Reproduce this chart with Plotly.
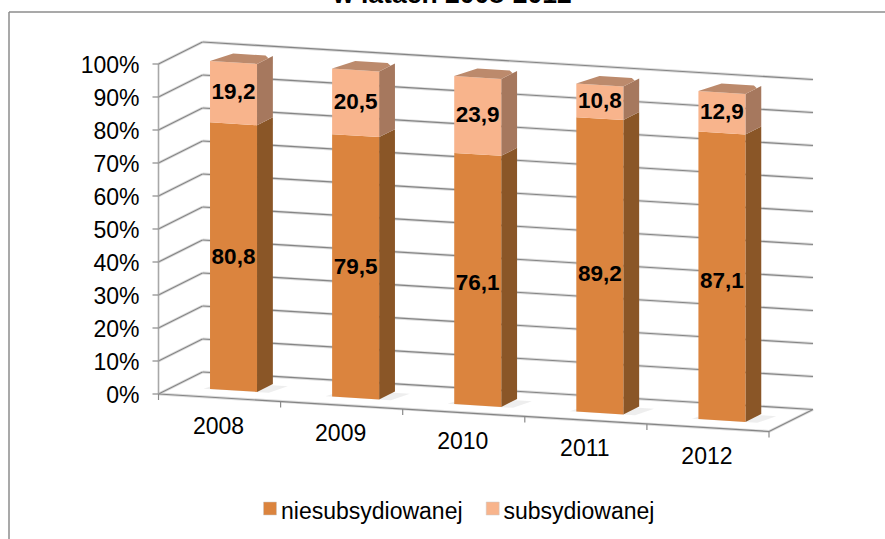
import plotly.graph_objects as go

YEARS = ["2008", "2009", "2010", "2011", "2012"]
NIESUB = [80.8, 79.5, 76.1, 89.2, 87.1]
SUB = [19.2, 20.5, 23.9, 10.8, 12.9]
SERIES_NAMES = ["niesubsydiowanej", "subsydiowanej"]
Y_TICKS = [0, 10, 20, 30, 40, 50, 60, 70, 80, 90, 100]
TITLE = "w latach 2008-2012"

# oblique projection of the 3-D chart box: category c, value v, depth d -> canvas axes
X0, Y0 = 158.5, 394.0
DX_C, DY_C = 122.1, 7.5
DX_D, DY_D = 44.0, -22.0
V_SCALE = 3.3


def project(c, v, d):
    return X0 + DX_C * c + DX_D * d, Y0 + DY_C * c + DY_D * d - V_SCALE * v


def poly(points, color, name=None):
    xy = [project(*p) for p in points]
    xy.append(xy[0])
    return go.Scatter(x=[p[0] for p in xy], y=[p[1] for p in xy], mode="lines", fill="toself",
                      fillcolor=color, line=dict(width=0), hoverinfo="skip", showlegend=False, name=name)


def segs(pairs, color, width):
    xs, ys = [], []
    for a, b in pairs:
        pa, pb = project(*a), project(*b)
        xs += [pa[0], pb[0], None]
        ys += [pa[1], pb[1], None]
    return go.Scatter(x=xs, y=ys, mode="lines", line=dict(color=color, width=width),
                      hoverinfo="skip", showlegend=False)


FONT = "Liberation Sans"
GRID = "#858585"
traces = []

n = len(YEARS)
grid_pairs = []
for t in Y_TICKS:
    grid_pairs.append(((0, t, 0), (0, t, 1)))
    grid_pairs.append(((0, t, 1), (n, t, 1)))
floor_pairs = [((0, 0, 0), (n, 0, 0)), ((n, 0, 0), (n, 0, 1))]
traces.append(segs(grid_pairs + floor_pairs, "#dcdcdc", 3))
traces.append(segs(grid_pairs + floor_pairs, GRID, 1.2))
traces.append(segs([((0, 0, 0), (0, 100, 0))], "#a8a8a8", 1.6))

# tick marks
vt = [project(0, t, 0) for t in Y_TICKS]
traces.append(go.Scatter(x=sum([[p[0] - 6, p[0], None] for p in vt], []),
                         y=sum([[p[1], p[1], None] for p in vt], []),
                         mode="lines", line=dict(color="#8a8a8a", width=1.2), hoverinfo="skip", showlegend=False))
ct = [project(i, 0, 0) for i in range(n + 1)]
traces.append(go.Scatter(x=sum([[p[0], p[0], None] for p in ct], []),
                         y=sum([[p[1], p[1] + 6, None] for p in ct], []),
                         mode="lines", line=dict(color="#8a8a8a", width=1.2), hoverinfo="skip", showlegend=False))

C_L, C_R = 0.303, 0.688
D_F, D_B = 0.33, 0.69
BEVEL = 0.6
COL_LOW = dict(front="#DB843E", side="#8A5627")
COL_UP = dict(front="#F8B48C", side="#A6785E", top="#BC8A6C")

for i in range(n):
    l, r = i + C_L, i + C_R
    low, up = NIESUB[i], NIESUB[i] + SUB[i] - BEVEL
    # soft floor shadow
    traces.append(poly([(l - .05, 0, D_F - .01), (r + .1, 0, D_F - .01), (r + .14, 0, D_B - .05), (l, 0, D_B - .05)],
                       "rgba(150,150,150,0.16)"))
    traces.append(poly([(r, 0, D_F), (r, 0, D_B), (r, low, D_B), (r, low, D_F)], COL_LOW["side"]))
    traces.append(poly([(l, 0, D_F), (r, 0, D_F), (r, low, D_F), (l, low, D_F)], COL_LOW["front"]))
    traces.append(poly([(r, low, D_F), (r, low, D_B), (r, up, D_B), (r, up, D_F)], COL_UP["side"]))
    traces.append(poly([(l, low, D_F), (r, low, D_F), (r, up, D_F), (l, up, D_F)], COL_UP["front"]))
    e = 0.06
    traces.append(poly([(l, up, D_F), (r, up, D_F), (r, up, D_B - .1), (r - e, up, D_B),
                        (l + e, up, D_B), (l, up, D_B - .3)], COL_UP["top"]))

# data labels
LOW_LABEL_NUDGE = [0, 0, 3, 8, 4]
lab_x, lab_y, lab_t = [], [], []
mid_c = (C_L + C_R) / 2
for i in range(n):
    x, y = project(i + mid_c, NIESUB[i] / 2, D_F)
    lab_x.append(x); lab_y.append(y + 1.5 + LOW_LABEL_NUDGE[i]); lab_t.append(f"{NIESUB[i]:.1f}".replace(".", ","))
    x, y = project(i + mid_c, NIESUB[i] + SUB[i] / 2, D_F)
    lab_x.append(x); lab_y.append(y + 1.5); lab_t.append(f"{SUB[i]:.1f}".replace(".", ","))
traces.append(go.Scatter(x=lab_x, y=lab_y, text=lab_t, mode="text", textposition="middle center",
                         textfont=dict(family=FONT, size=22.5, color="#000000"), texttemplate="<b>%{text}</b>",
                         hoverinfo="skip", showlegend=False))

# value axis labels
pts = [project(0, t, 0) for t in Y_TICKS]
traces.append(go.Scatter(x=[p[0] - 19 for p in pts], y=[p[1] + 3 for p in pts], text=[f"{t}%" for t in Y_TICKS],
                         mode="text", textposition="middle left",
                         textfont=dict(family=FONT, size=23, color="#000000"), hoverinfo="skip", showlegend=False))
# category labels
pts = [project(i + 0.5, 0, 0) for i in range(n)]
traces.append(go.Scatter(x=[p[0] - 1 for p in pts], y=[p[1] + 30 for p in pts], text=YEARS,
                         mode="text", textposition="middle center",
                         textfont=dict(family=FONT, size=23, color="#000000"), hoverinfo="skip", showlegend=False))
# legend
traces.append(go.Scatter(x=[270, 492.7], y=[508.5, 508.5], mode="markers",
                         marker=dict(symbol="square", size=13, color=[COL_LOW["front"], COL_UP["front"]],
                                     line=dict(color="#c8c8c8", width=0.5)),
                         hoverinfo="skip", showlegend=False))
traces.append(go.Scatter(x=[281, 503.5], y=[513, 513], text=SERIES_NAMES, mode="text", textposition="middle right",
                         textfont=dict(family=FONT, size=23, color="#000000"), hoverinfo="skip", showlegend=False))

fig = go.Figure(traces)
fig.update_layout(
    width=885, height=539, autosize=False, margin=dict(l=0, r=0, t=0, b=0),
    paper_bgcolor="white", plot_bgcolor="white", showlegend=False,
    xaxis=dict(range=[0, 885], visible=False, fixedrange=True),
    yaxis=dict(range=[539, 0], visible=False, fixedrange=True),
    shapes=[
        dict(type="line", xref="x", yref="y", x0=9, x1=885, y0=12, y1=12, line=dict(color="#8c8c8c", width=1.5)),
        dict(type="line", xref="x", yref="y", x0=9, x1=9, y0=12, y1=539, line=dict(color="#8c8c8c", width=1.5)),
    ],
    annotations=[dict(text=f"<b>{TITLE}</b>", x=452, y=10, xref="x", yref="y", xanchor="center", yanchor="bottom",
                      showarrow=False, font=dict(family=FONT, size=26.5, color="#000000"),
                      borderpad=0)],
)
fig.write_html("out.html", config=dict(displayModeBar=False),
               post_script="document.body.style.margin='0';")
